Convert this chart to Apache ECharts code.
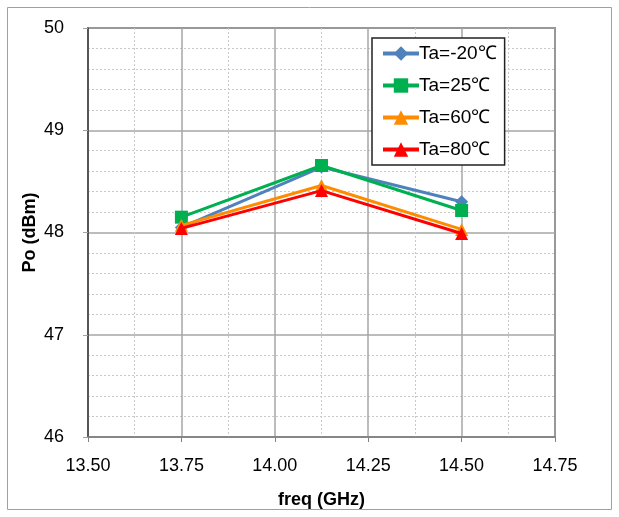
<!DOCTYPE html>
<html><head><meta charset="utf-8">
<script src="https://cdn.jsdelivr.net/npm/echarts@6/dist/echarts.min.js"></script>
<style>html,body{margin:0;padding:0;background:#fff}#c{width:619px;height:517px}</style>
</head><body><div id="c"></div>
<script>
const freqs = [13.75, 14.125, 14.5];
const seriesNames = ['Ta=-20℃', 'Ta=25℃', 'Ta=60℃', 'Ta=80℃'];
const tam20 = [48.05, 48.64, 48.30];
const ta25 = [48.15, 48.655, 48.215];
const ta60 = [48.07, 48.46, 48.03];
const ta80 = [48.04, 48.41, 47.99];
const colors = ['#4F81BD', '#00B050', '#FF8C00', '#FF0000'];
const symbols = ['diamond', 'rect', 'triangle', 'triangle'];
const allData = [tam20, ta25, ta60, ta80];

const font = 'Liberation Sans';
const chart = echarts.init(document.getElementById('c'));
chart.setOption({
  animation: false,
  textStyle: { fontFamily: font },
  graphic: [{ type: 'rect', shape: { x: 7.5, y: 7.5, width: 604, height: 502 }, style: { fill: 'none', stroke: '#A0A0A0', lineWidth: 1 }, silent: true }],
  grid: { left: 88, right: 64, top: 28, bottom: 80, show: true, borderColor: '#404040', borderWidth: 1.5 },
  legend: {
    orient: 'vertical', left: 372, top: 38,
    backgroundColor: '#fff', borderColor: '#222', borderWidth: 1.5,
    padding: [6, 8, 6, 9], itemGap: 13, itemWidth: 36, itemHeight: 18,
    lineStyle: { width: 4 },
    textStyle: { fontSize: 19, fontFamily: font, color: '#000', padding: [0, 0, 0, -5] },
    data: seriesNames
  },
  xAxis: {
    type: 'value', min: 13.5, max: 14.75, interval: 0.25,
    name: 'freq (GHz)', nameLocation: 'middle', nameGap: 54,
    nameTextStyle: { fontSize: 18, fontWeight: 'bold', color: '#000', fontFamily: font },
    axisLabel: { fontSize: 18, color: '#000', margin: 20, formatter: v => v.toFixed(2) },
    axisLine: { show: true, lineStyle: { color: '#808080', width: 1.5 } },
    axisTick: { show: true, inside: false, length: 5, lineStyle: { color: '#808080' } },
    splitLine: { show: true, lineStyle: { color: '#A6A6A6', width: 1.5 } },
    minorTick: { show: false, splitNumber: 2 },
    minorSplitLine: { show: true, lineStyle: { color: '#C8C8C8', type: [2, 2], width: 1 } }
  },
  yAxis: {
    type: 'value', min: 46, max: 50, interval: 1,
    name: 'Po (dBm)', nameLocation: 'middle', nameGap: 49, nameMoveOverlap: false,
    nameTextStyle: { fontSize: 18, fontWeight: 'bold', color: '#000', fontFamily: font },
    axisLabel: { fontSize: 18, color: '#000', margin: 24 },
    axisLine: { show: true, lineStyle: { color: '#404040', width: 1.5 } },
    axisTick: { show: true, length: 5, lineStyle: { color: '#A0A0A0' } },
    splitLine: { show: true, lineStyle: { color: '#A6A6A6', width: 1.5 } },
    minorTick: { show: false, splitNumber: 5 },
    minorSplitLine: { show: true, lineStyle: { color: '#C8C8C8', type: [2, 2], width: 1 } }
  },
  series: seriesNames.map((n, i) => ({
    name: n, type: 'line', data: freqs.map((f, j) => [f, allData[i][j]]),
    symbol: symbols[i], symbolSize: 13,
    lineStyle: { color: colors[i], width: 3 },
    itemStyle: { color: colors[i] },
    z: 2 + i
  }))
});
</script></body></html>
